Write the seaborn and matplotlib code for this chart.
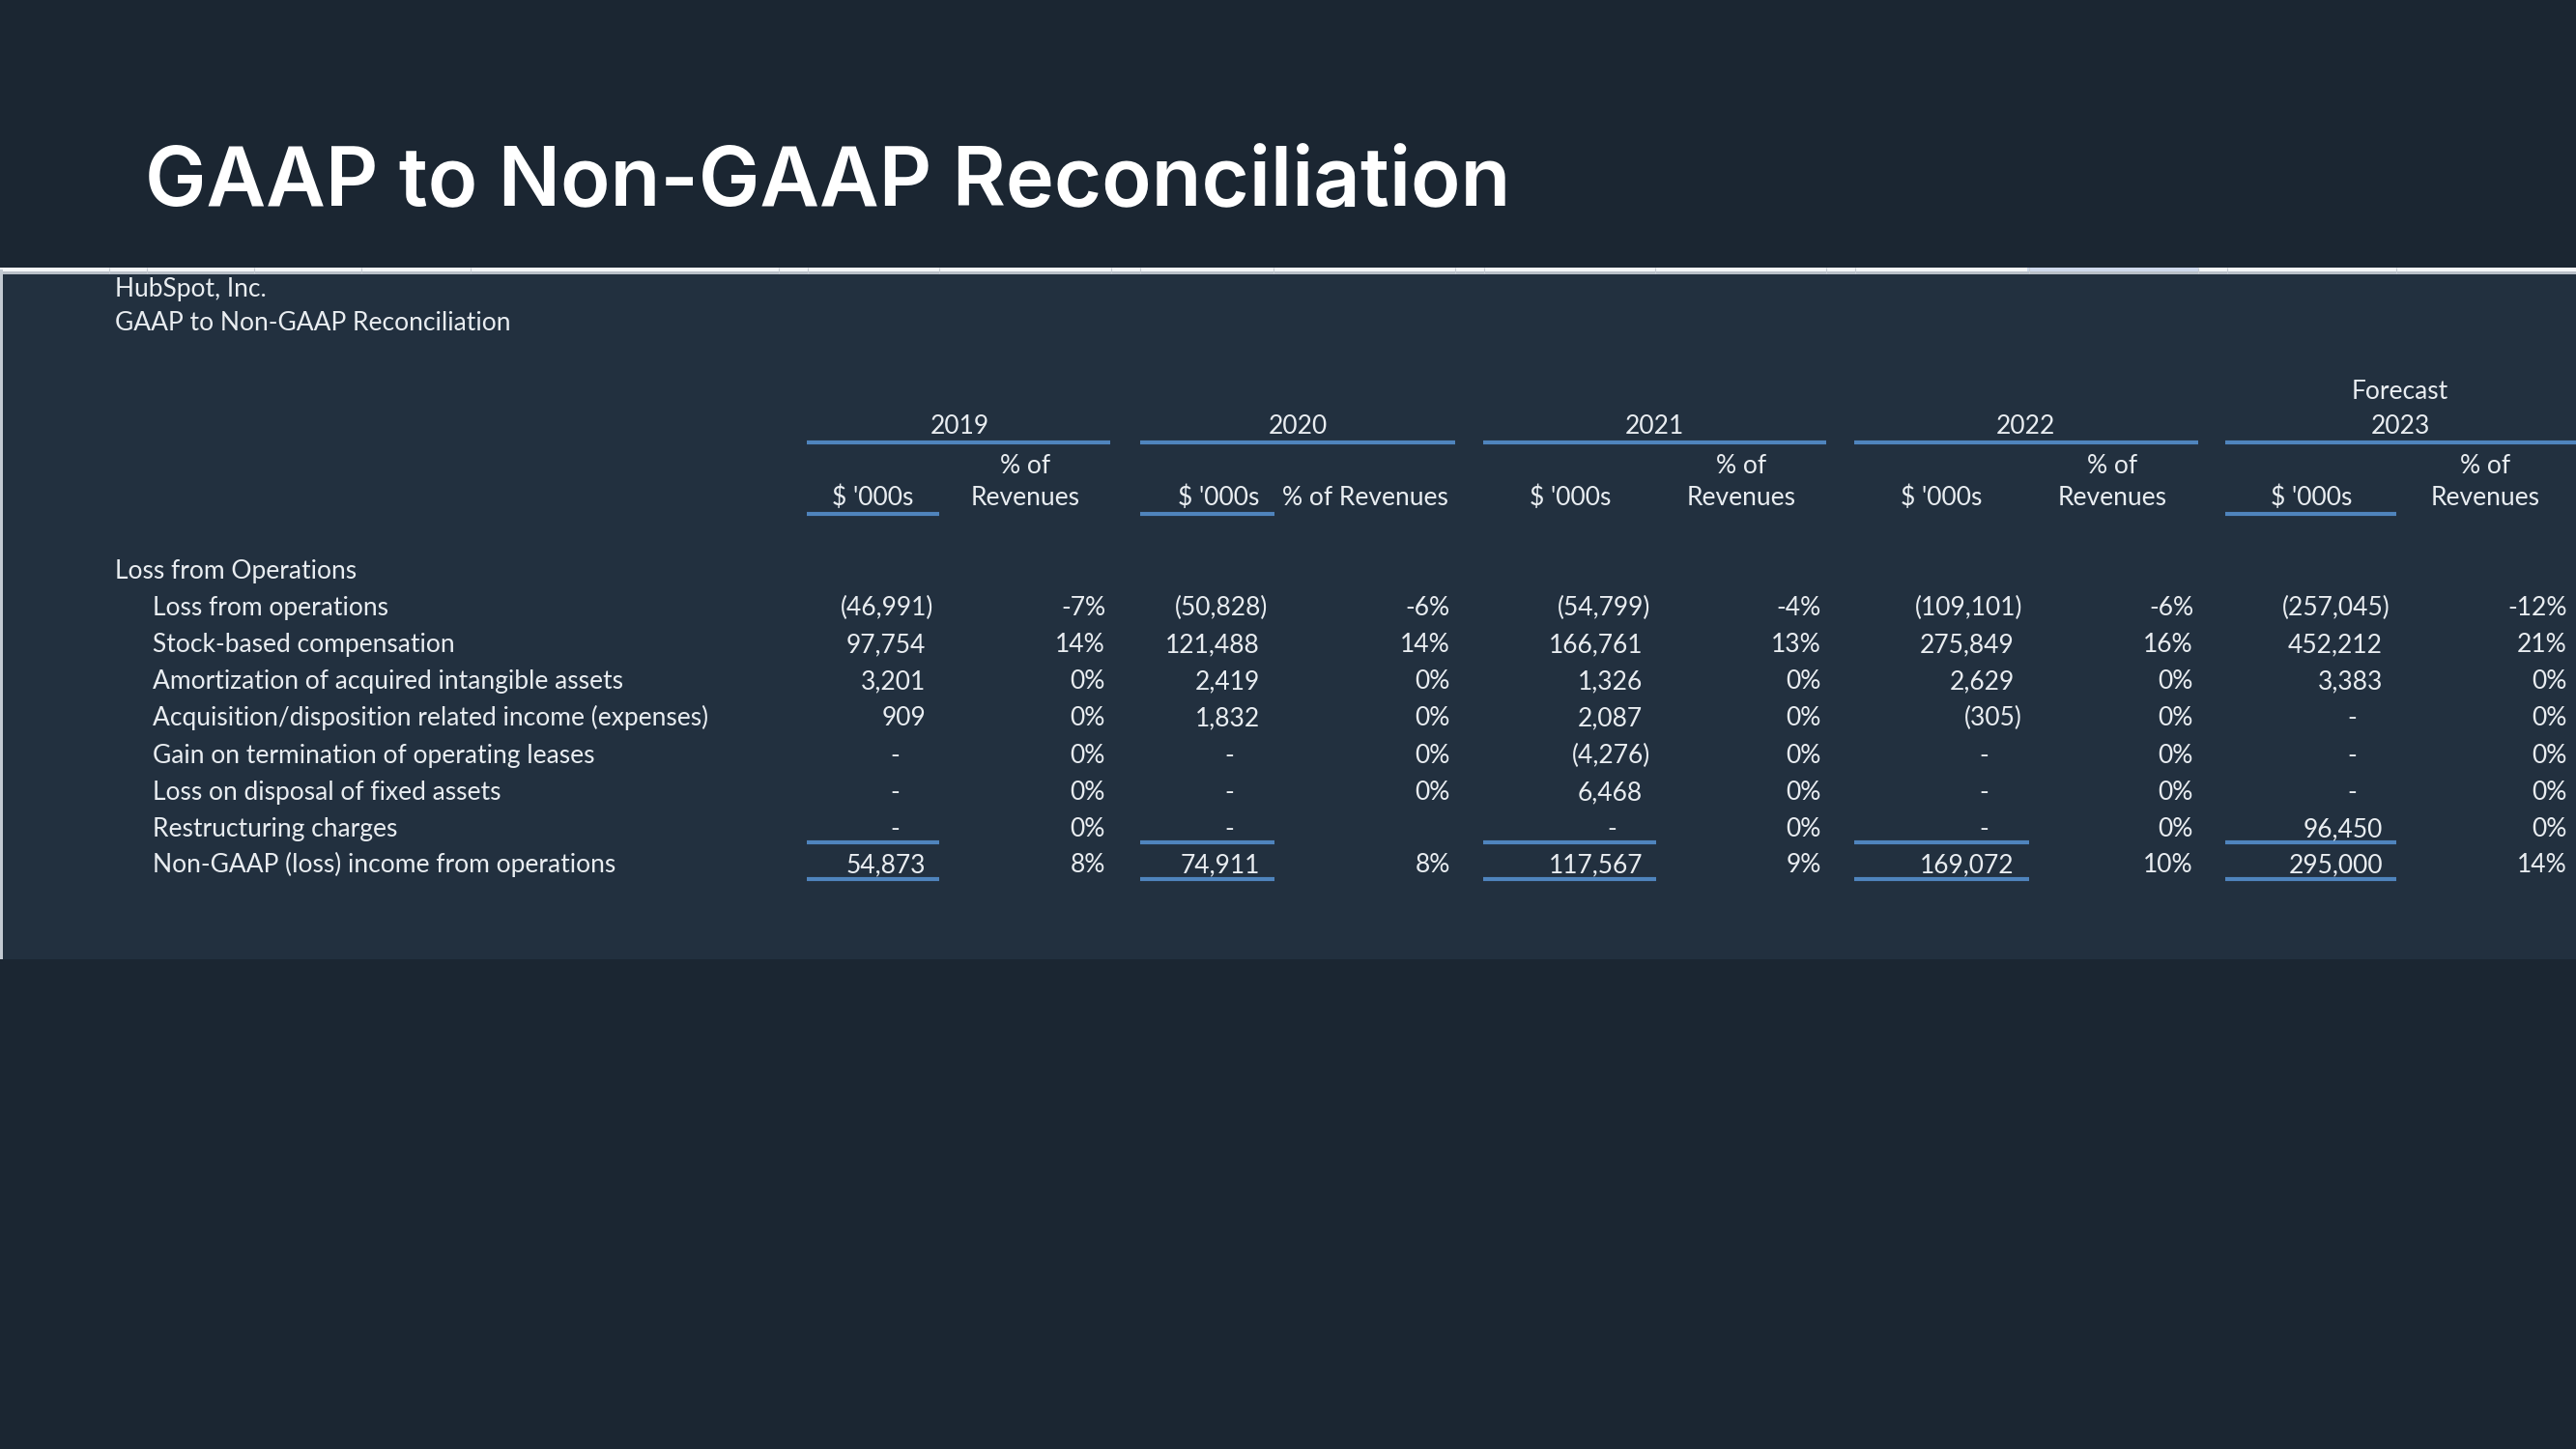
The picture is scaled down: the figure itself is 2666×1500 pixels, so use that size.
import matplotlib
matplotlib.use("Agg")
import matplotlib.pyplot as plt
from matplotlib.patches import Rectangle
import seaborn as sns

# ---------------- data ----------------
title = "GAAP to Non-GAAP Reconciliation"
company = "HubSpot, Inc."
subtitle = "GAAP to Non-GAAP Reconciliation"
section = "Loss from Operations"
row_labels = [
    "Loss from operations",
    "Stock-based compensation",
    "Amortization of acquired intangible assets",
    "Acquisition/disposition related income (expenses)",
    "Gain on termination of operating leases",
    "Loss on disposal of fixed assets",
    "Restructuring charges",
    "Non-GAAP (loss) income from operations",
]
years = ["2019", "2020", "2021", "2022", "2023"]
year_prefix = ["", "", "", "", "Forecast"]
pct_header_two_line = [True, False, True, True, True]

usd_2019 = [-46991, 97754, 3201, 909, 0, 0, 0, 54873]
usd_2020 = [-50828, 121488, 2419, 1832, 0, 0, 0, 74911]
usd_2021 = [-54799, 166761, 1326, 2087, -4276, 6468, 0, 117567]
usd_2022 = [-109101, 275849, 2629, -305, 0, 0, 0, 169072]
usd_2023 = [-257045, 452212, 3383, 0, 0, 0, 96450, 295000]

pct_2019 = [-7, 14, 0, 0, 0, 0, 0, 8]
pct_2020 = [-6, 14, 0, 0, 0, 0, None, 8]
pct_2021 = [-4, 13, 0, 0, 0, 0, 0, 9]
pct_2022 = [-6, 16, 0, 0, 0, 0, 0, 10]
pct_2023 = [-12, 21, 0, 0, 0, 0, 0, 14]

usd_values = [usd_2019, usd_2020, usd_2021, usd_2022, usd_2023]
pct_values = [pct_2019, pct_2020, pct_2021, pct_2022, pct_2023]

# ---------------- style ----------------
sns.set_theme(style="dark")
BG = "#1b2632"
PANEL = "#22303f"
TXT = "#e9edf1"
LINE = "#4f84bd"
plt.rcParams["font.family"] = ["Lato", "DejaVu Sans"]

fig = plt.figure(figsize=(26.66, 15), dpi=100, facecolor=BG)
ax = fig.add_axes([0, 0, 1, 1])
ax.set_facecolor(BG)
ax.set_xlim(0, 2666)
ax.set_ylim(1500, 0)
ax.axis("off")

# panel
ax.add_patch(Rectangle((0, 279), 2666, 714, facecolor=PANEL, edgecolor="none", zorder=0))
ax.add_patch(Rectangle((0, 277), 2666, 4, facecolor="#f4f6f8", edgecolor="none", zorder=1))
ax.add_patch(Rectangle((0, 281), 2666, 3, facecolor="#b9c0c8", edgecolor="none", zorder=1))
ax.add_patch(Rectangle((2098, 277), 177, 4, facecolor="#cfd9ec", edgecolor="none", zorder=2))
ax.add_patch(Rectangle((0, 279), 3, 714, facecolor="#c3cad2", edgecolor="none", zorder=1))
for gx in [113, 152, 263, 374, 487, 806, 836, 972, 1150, 1180, 1318, 1506, 1536, 1713, 1890, 1920, 2100, 2275, 2305, 2480]:
    ax.vlines(gx, 277, 283, color="#c8cdd3", lw=0.8, zorder=2)

# title
ax.text(150, 213, title, color="white", fontsize=61, fontweight="semibold",
        family=["Inter", "DejaVu Sans"], ha="left", va="baseline")

FS = 19
ax.text(119, 307, company, color=TXT, fontsize=FS, ha="left", va="baseline")
ax.text(119, 342, subtitle, color=TXT, fontsize=FS, ha="left", va="baseline")
ax.text(119, 599, section, color=TXT, fontsize=FS, ha="left", va="baseline")

row_base = [637, 675, 713, 751, 790, 828, 866, 903]
for lab, yb in zip(row_labels, row_base):
    ax.text(158, yb, lab, color=TXT, fontsize=FS, ha="left", va="baseline")

# column layout (pixels)
usd_right = [966, 1312, 1708, 2093, 2474]
pct_right = [1144, 1501, 1885, 2270, 2657]
year_cx = [993, 1343, 1712, 2096, 2484]
usd_cx = [903, 1261, 1625, 2009, 2392]
pct_cx = [1061, 1413, 1802, 2186, 2572]
year_line = [(835, 1149), (1180, 1506), (1535, 1890), (1919, 2275), (2303, 2666)]
usd_line = [(835, 972), (1180, 1319), (1535, 1714), (1919, 2100), (2303, 2480)]
usd_head_line = [True, True, False, False, True]

LW = 3.0
for i in range(5):
    if year_prefix[i]:
        ax.text(year_cx[i], 413, year_prefix[i], color=TXT, fontsize=FS, ha="center", va="baseline")
    ax.text(year_cx[i], 449, years[i], color=TXT, fontsize=FS, ha="center", va="baseline")
    ax.hlines(458, *year_line[i], color=LINE, lw=LW)
    ax.text(usd_cx[i], 523, "$ '000s", color=TXT, fontsize=FS, ha="center", va="baseline")
    if pct_header_two_line[i]:
        ax.text(pct_cx[i], 490, "% of", color=TXT, fontsize=FS, ha="center", va="baseline")
        ax.text(pct_cx[i], 523, "Revenues", color=TXT, fontsize=FS, ha="center", va="baseline")
    else:
        ax.text(pct_cx[i], 523, "% of Revenues", color=TXT, fontsize=FS, ha="center", va="baseline")
    if usd_head_line[i]:
        ax.hlines(532, *usd_line[i], color=LINE, lw=LW)
    # total lines
    ax.hlines(872, *usd_line[i], color=LINE, lw=LW)
    ax.hlines(910, *usd_line[i], color=LINE, lw=LW)

    for v, p, yb in zip(usd_values[i], pct_values[i], row_base):
        if v == 0:
            ax.text(usd_right[i] - 40, yb, "-", color=TXT, fontsize=FS, ha="center", va="baseline")
        elif v < 0:
            ax.text(usd_right[i], yb, f"({-v:,})", color=TXT, fontsize=FS, ha="right", va="baseline")
        else:
            ax.text(usd_right[i] - 8, yb, f"{v:,}", color=TXT, fontsize=FS, ha="right", va="baseline")
        if p is not None:
            ax.text(pct_right[i], yb, f"{p}%", color=TXT, fontsize=FS, ha="right", va="baseline")

fig.savefig("out.png", dpi=100, facecolor=BG)
